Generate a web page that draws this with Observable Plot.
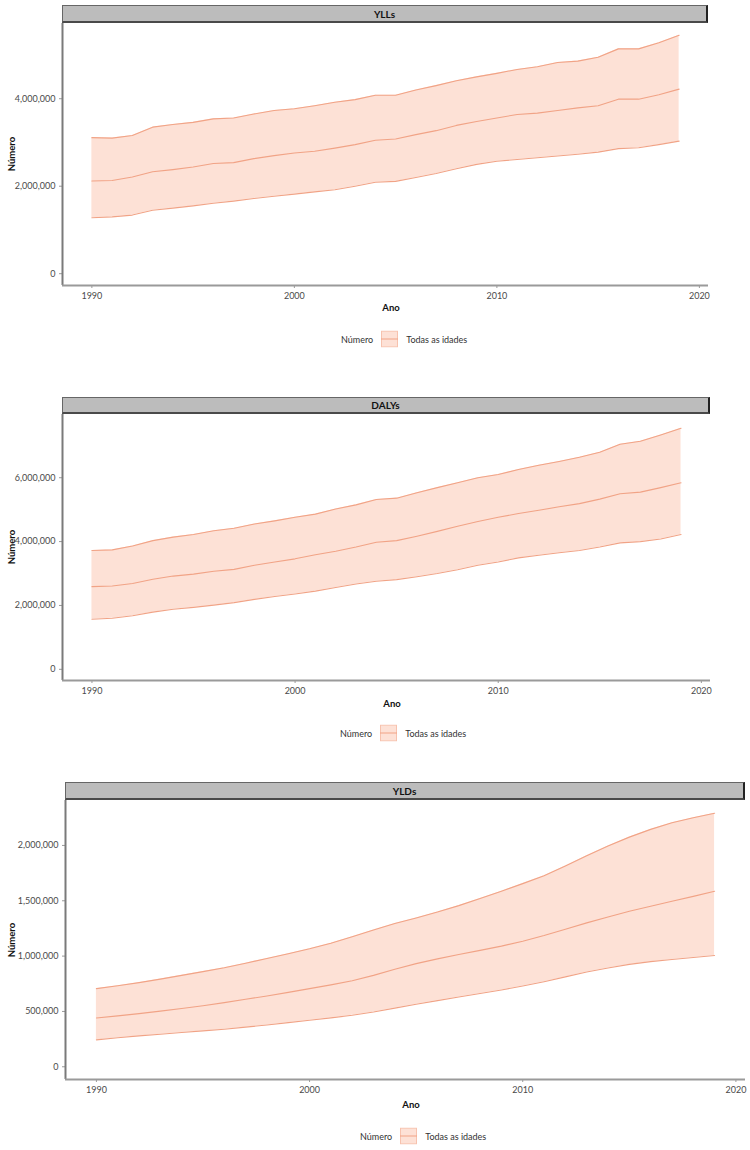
<!DOCTYPE html>
<html>
<head>
<meta charset="utf-8">
<script src="https://cdn.jsdelivr.net/npm/d3@7"></script>
<script src="https://cdn.jsdelivr.net/npm/@observablehq/plot@0.6"></script>
<style>
  html, body { margin: 0; padding: 0; background: #fff; }
  #root { position: relative; width: 750px; height: 1150px; font-family: Lato, "Open Sans", sans-serif; color: #333; }
  .strip { position: absolute; box-sizing: border-box; background: #bcbcbc; border: 1.5px solid #666; border-right: 2.5px solid #222; border-bottom: 2px solid #4a4a4a;
           font-weight: bold; font-size: 10px; color: #111; display: flex; align-items: center; justify-content: center; }
  .abs { position: absolute; white-space: nowrap; }
  .ytitle { font-weight: bold; font-size: 9.5px; color: #111; transform: translate(-50%, -50%) rotate(-90deg); }
  .xtitle { font-weight: bold; font-size: 9.5px; color: #111; transform: translate(-50%, -50%); }
  .legend { font-size: 9px; color: #333; display: flex; align-items: center; transform: translateY(-50%); }
  .plot { position: absolute; left: 0; }
</style>
</head>
<body>
<div id="root"></div>
<script>
const years = [1990,1991,1992,1993,1994,1995,1996,1997,1998,1999,2000,2001,2002,2003,2004,2005,2006,2007,2008,2009,2010,2011,2012,2013,2014,2015,2016,2017,2018,2019];

const yllUpper = [3110000,3100000,3160000,3350000,3410000,3460000,3540000,3560000,3650000,3730000,3770000,3840000,3920000,3980000,4080000,4080000,4200000,4300000,4410000,4500000,4580000,4670000,4730000,4830000,4860000,4950000,5140000,5140000,5280000,5450000];
const yllMid   = [2120000,2130000,2210000,2330000,2380000,2440000,2520000,2540000,2630000,2700000,2760000,2800000,2870000,2950000,3050000,3080000,3180000,3270000,3390000,3480000,3560000,3640000,3670000,3730000,3790000,3840000,3990000,3990000,4090000,4220000];
const yllLower = [1280000,1300000,1340000,1450000,1500000,1550000,1610000,1660000,1720000,1770000,1820000,1870000,1920000,2000000,2090000,2110000,2200000,2290000,2400000,2500000,2570000,2610000,2650000,2690000,2730000,2780000,2860000,2880000,2950000,3030000];

const dalyUpper = [3720000,3740000,3860000,4030000,4140000,4220000,4340000,4420000,4550000,4650000,4760000,4860000,5020000,5150000,5320000,5360000,5530000,5690000,5840000,6000000,6100000,6260000,6390000,6510000,6640000,6800000,7050000,7140000,7340000,7550000];
const dalyMid   = [2590000,2610000,2690000,2820000,2920000,2980000,3070000,3130000,3260000,3360000,3460000,3590000,3700000,3830000,3980000,4030000,4170000,4320000,4480000,4630000,4760000,4880000,4980000,5090000,5190000,5330000,5500000,5550000,5690000,5840000];
const dalyLower = [1570000,1600000,1680000,1790000,1880000,1940000,2010000,2090000,2190000,2280000,2360000,2450000,2560000,2670000,2760000,2810000,2900000,3000000,3120000,3260000,3360000,3490000,3570000,3650000,3720000,3830000,3960000,4000000,4080000,4220000];

const yldUpper = [706000,732000,760000,792000,826000,860000,895000,936000,979000,1022000,1066000,1116000,1174000,1236000,1294000,1345000,1398000,1456000,1520000,1586000,1655000,1727000,1815000,1907000,1995000,2075000,2145000,2205000,2250000,2291000];
const yldMid   = [441000,460000,480000,503000,526000,552000,580000,610000,640000,672000,706000,740000,778000,826000,882000,932000,975000,1015000,1052000,1090000,1135000,1186000,1242000,1300000,1353000,1405000,1450000,1495000,1540000,1586000];
const yldLower = [243000,262000,279000,294000,309000,324000,339000,358000,378000,399000,420000,442000,465000,495000,530000,565000,598000,631000,662000,694000,730000,769000,812000,856000,893000,925000,950000,970000,988000,1006000];

const panelTitles = ["YLLs", "DALYs", "YLDs"];
const yTicks = [[0, 2000000, 4000000], [0, 2000000, 4000000, 6000000], [0, 500000, 1000000, 1500000, 2000000]];
const xTicks = [1990, 2000, 2010, 2020];
const yTitle = "Número";
const xTitle = "Ano";
const legendTitle = "Número";
const legendLabel = "Todas as idades";

const FILL = "#fde1d6";
const LINE = "#f1a386";
const AXIS = "#9a9a9a";

const root = document.getElementById("root");

const panels = [
  {lower: yllLower, mid: yllMid, upper: yllUpper, yDomain: [-270000, 5720000],
   left: 62, right: 708, stripTop: 5, top: 23, bottom: 285, xTitleY: 307, legendY: 339, legendX: 341},
  {lower: dalyLower, mid: dalyMid, upper: dalyUpper, yDomain: [-350000, 7980000],
   left: 62, right: 710, stripTop: 397, top: 414, bottom: 680, xTitleY: 703, legendY: 733, legendX: 340},
  {lower: yldLower, mid: yldMid, upper: yldUpper, yDomain: [-115000, 2406000],
   left: 65, right: 745, stripTop: 782, top: 800, bottom: 1079, xTitleY: 1104, legendY: 1136, legendX: 360}
];

panels.forEach((p, i) => {
  const data = years.map((y, k) => ({year: y, lower: p.lower[k], mid: p.mid[k], upper: p.upper[k]}));
  const xDomain = [1988.55, 2020.45];
  const innerH = p.bottom - p.top;
  const mb = 24;
  const svg = Plot.plot({
    width: 750,
    height: innerH + mb,
    marginLeft: p.left,
    marginRight: 750 - p.right,
    marginTop: 0,
    marginBottom: mb,
    style: {fontFamily: "Lato, 'Open Sans', sans-serif", fontSize: "9px", color: "#4a4a4a", background: "transparent", overflow: "visible"},
    x: {domain: xDomain, ticks: xTicks, tickFormat: d => String(d), tickSize: 3, tickPadding: 4, label: null},
    y: {domain: p.yDomain, ticks: yTicks[i], tickFormat: d3.format(","), tickSize: 3, tickPadding: 4, label: null},
    marks: [
      Plot.areaY(data, {x: "year", y1: "lower", y2: "upper", fill: FILL}),
      Plot.lineY(data, {x: "year", y: "lower", stroke: LINE, strokeWidth: 1.1}),
      Plot.lineY(data, {x: "year", y: "mid", stroke: LINE, strokeWidth: 1.1}),
      Plot.lineY(data, {x: "year", y: "upper", stroke: LINE, strokeWidth: 1.1}),
      Plot.ruleX([xDomain[0]], {stroke: "#7a7a7a", strokeWidth: 2}),
      Plot.ruleY([p.yDomain[0]], {stroke: AXIS, strokeWidth: 2})
    ]
  });
  svg.classList.add("plot");
  svg.style.top = p.top + "px";
  svg.querySelectorAll("[aria-label$='tick'] path, [aria-label$='tick']").forEach(el => { if (el.getAttribute("stroke")) el.setAttribute("stroke", AXIS); });
  root.appendChild(svg);

  const strip = document.createElement("div");
  strip.className = "strip";
  strip.style.left = p.left + "px";
  strip.style.top = p.stripTop + "px";
  strip.style.width = (p.right - p.left) + "px";
  strip.style.height = (p.top - p.stripTop) + "px";
  strip.textContent = panelTitles[i];
  root.appendChild(strip);

  const yt = document.createElement("div");
  yt.className = "abs ytitle";
  yt.style.left = "11px";
  yt.style.top = ((p.top + p.bottom) / 2) + "px";
  yt.textContent = yTitle;
  root.appendChild(yt);

  const xt = document.createElement("div");
  xt.className = "abs xtitle";
  xt.style.left = ((p.left + p.right) / 2 + 6) + "px";
  xt.style.top = p.xTitleY + "px";
  xt.textContent = xTitle;
  root.appendChild(xt);

  const lg = document.createElement("div");
  lg.className = "abs legend";
  lg.style.left = p.legendX + "px";
  lg.style.top = p.legendY + "px";
  lg.innerHTML = `<span>${legendTitle}</span>
    <svg width="17" height="17" style="margin:0 8px 0 8px">
      <rect x="0.5" y="0.5" width="16" height="16" fill="${FILL}" stroke="${LINE}" stroke-opacity="0.6" stroke-width="1"/>
      <line x1="0" x2="17" y1="8.5" y2="8.5" stroke="${LINE}" stroke-width="1.2"/>
    </svg>
    <span>${legendLabel}</span>`;
  root.appendChild(lg);
});
</script>
</body>
</html>
